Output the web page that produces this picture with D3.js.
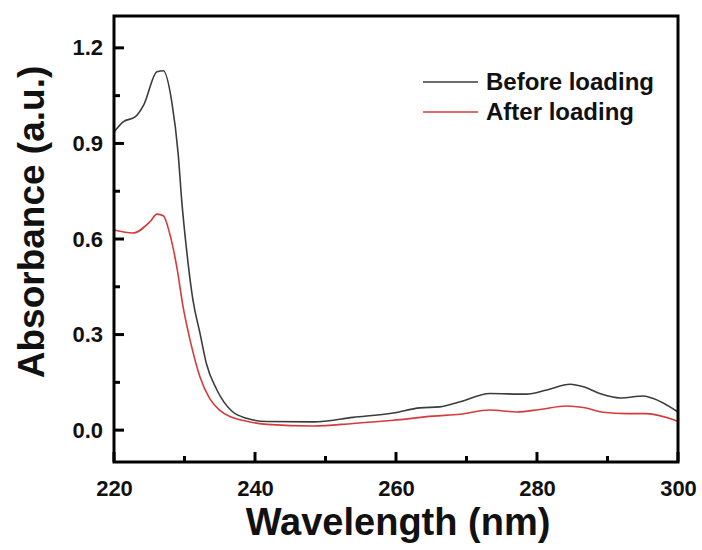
<!DOCTYPE html>
<html>
<head>
<meta charset="utf-8">
<script src="https://cdn.jsdelivr.net/npm/d3@7"></script>
<style>
  body { margin: 0; background: #fff; }
  text { font-family: "Liberation Sans", Arial, sans-serif; font-weight: bold; }
</style>
</head>
<body>
<div id="app"></div>
<script>
// wavelength (nm) and absorbance
const beforeNm = [220, 221.3, 223, 224.2, 226.1, 227, 228.2, 229.1, 229.6, 230.3, 231.2, 232.2, 233.1, 234.6, 235.6, 236.7, 238.8, 241.7, 248.3, 253.9, 259.6, 263.4, 266.2, 269.1, 273.3, 278.5, 281.4, 284.7, 286.6, 288.9, 291.8, 295.1, 296.5, 300]
const beforeAbs = [0.936, 0.968, 0.983, 1.02, 1.125, 1.128, 1.03, 0.868, 0.722, 0.565, 0.408, 0.304, 0.209, 0.126, 0.088, 0.060, 0.037, 0.027, 0.026, 0.04, 0.054, 0.07, 0.073, 0.089, 0.115, 0.113, 0.126, 0.144, 0.136, 0.115, 0.101, 0.107, 0.099, 0.057]

const afterNm = [220, 222.7, 225.1, 226.1, 227, 227.9, 228.9, 229.8, 230.8, 232.2, 233.6, 235, 236.5, 238, 239.5, 241.7, 248.3, 253.9, 259.6, 265.3, 269.1, 273.3, 277.1, 280.4, 284.2, 286.6, 289.4, 292.7, 295.5, 300]
const afterAbs = [0.628, 0.619, 0.654, 0.678, 0.673, 0.617, 0.513, 0.387, 0.282, 0.167, 0.098, 0.062, 0.042, 0.032, 0.025, 0.018, 0.013, 0.021, 0.031, 0.044, 0.05, 0.063, 0.057, 0.065, 0.076, 0.071, 0.056, 0.052, 0.052, 0.028]

const xTicks = [220, 240, 260, 280, 300]
const xMinor = [230, 250, 270, 290]
const yTicks = [0.0, 0.3, 0.6, 0.9, 1.2]
const yMinor = [0.15, 0.45, 0.75, 1.05]

const seriesNames = ["Before loading", "After loading"]
const seriesColors = ["#3c3c3c", "#d63a3c"]

const W = 702, H = 550
const plotLeft = 114, plotRight = 678, plotTop = 16, plotBottom = 462

const svg = d3.select('#app').append('svg')
    .attr('width', W)
    .attr('height', H)
    .style('display', 'block')

const x = d3.scaleLinear().domain([220, 300]).range([plotLeft, plotRight])
const y = d3.scaleLinear().domain([-0.1, 1.3]).range([plotBottom, plotTop])

// curves
const lineGen = d3.line()
    .x(d => x(d[0]))
    .y(d => y(d[1]))
    .curve(d3.curveMonotoneX)

const series = [
    d3.zip(beforeNm, beforeAbs),
    d3.zip(afterNm, afterAbs)
]

svg.selectAll('path.curve')
    .data(series)
    .enter()
    .append('path')
    .attr('class', 'curve')
    .attr('d', lineGen)
    .attr('fill', 'none')
    .attr('stroke', (d, i) => seriesColors[i])
    .attr('stroke-width', 1.6)

// frame
svg.append('rect')
    .attr('x', plotLeft)
    .attr('y', plotTop)
    .attr('width', plotRight - plotLeft)
    .attr('height', plotBottom - plotTop)
    .attr('fill', 'none')
    .attr('stroke', '#000')
    .attr('stroke-width', 3)

// tick labels from the axes
const xAxis = d3.axisBottom(x).tickValues(xTicks).tickFormat(d3.format('d')).tickSize(0).tickPadding(18)
const yAxis = d3.axisLeft(y).tickValues(yTicks).tickFormat(d3.format('.1f')).tickSize(0).tickPadding(11)

const axes = svg.append('g').attr('class', 'axes')
axes.append('g').attr('transform', `translate(0,${plotBottom})`).call(xAxis)
axes.append('g').attr('transform', `translate(${plotLeft},0)`).call(yAxis)
axes.selectAll('.domain').remove()
axes.selectAll('.tick text')
    .attr('font-size', 22)
    .attr('fill', '#111')

// inward tick marks
const tickG = svg.append('g').attr('stroke', '#000').attr('stroke-width', 3)
tickG.selectAll('line.xt')
    .data(xTicks.map(v => [v, 10]).concat(xMinor.map(v => [v, 6])))
    .enter()
    .append('line')
    .attr('class', 'xt')
    .attr('x1', d => x(d[0]))
    .attr('x2', d => x(d[0]))
    .attr('y1', plotBottom)
    .attr('y2', d => plotBottom - d[1])
tickG.selectAll('line.yt')
    .data(yTicks.map(v => [v, 10]).concat(yMinor.map(v => [v, 6])))
    .enter()
    .append('line')
    .attr('class', 'yt')
    .attr('y1', d => y(d[0]))
    .attr('y2', d => y(d[0]))
    .attr('x1', plotLeft)
    .attr('x2', d => plotLeft + d[1])

// axis titles
svg.append('text')
    .attr('x', (plotLeft + plotRight) / 2 + 2)
    .attr('y', 535)
    .attr('text-anchor', 'middle')
    .attr('font-size', 38)
    .attr('fill', '#111')
    .text('Wavelength (nm)')

svg.append('text')
    .attr('transform', `translate(44,222) rotate(-90)`)
    .attr('text-anchor', 'middle')
    .attr('font-size', 37)
    .attr('fill', '#111')
    .text('Absorbance (a.u.)')

// legend
const legendY = [82, 112]
const legend = svg.selectAll('g.legend')
    .data(seriesNames)
    .enter()
    .append('g')
    .attr('class', 'legend')
    .attr('transform', (d, i) => `translate(423,${legendY[i]})`)

legend.append('line')
    .attr('x1', 0).attr('x2', 55)
    .attr('stroke', (d, i) => seriesColors[i])
    .attr('stroke-width', 1.6)

legend.append('text')
    .attr('x', 63)
    .attr('y', 8)
    .attr('font-size', 24)
    .attr('fill', '#111')
    .text(d => d)
</script>
</body>
</html>
